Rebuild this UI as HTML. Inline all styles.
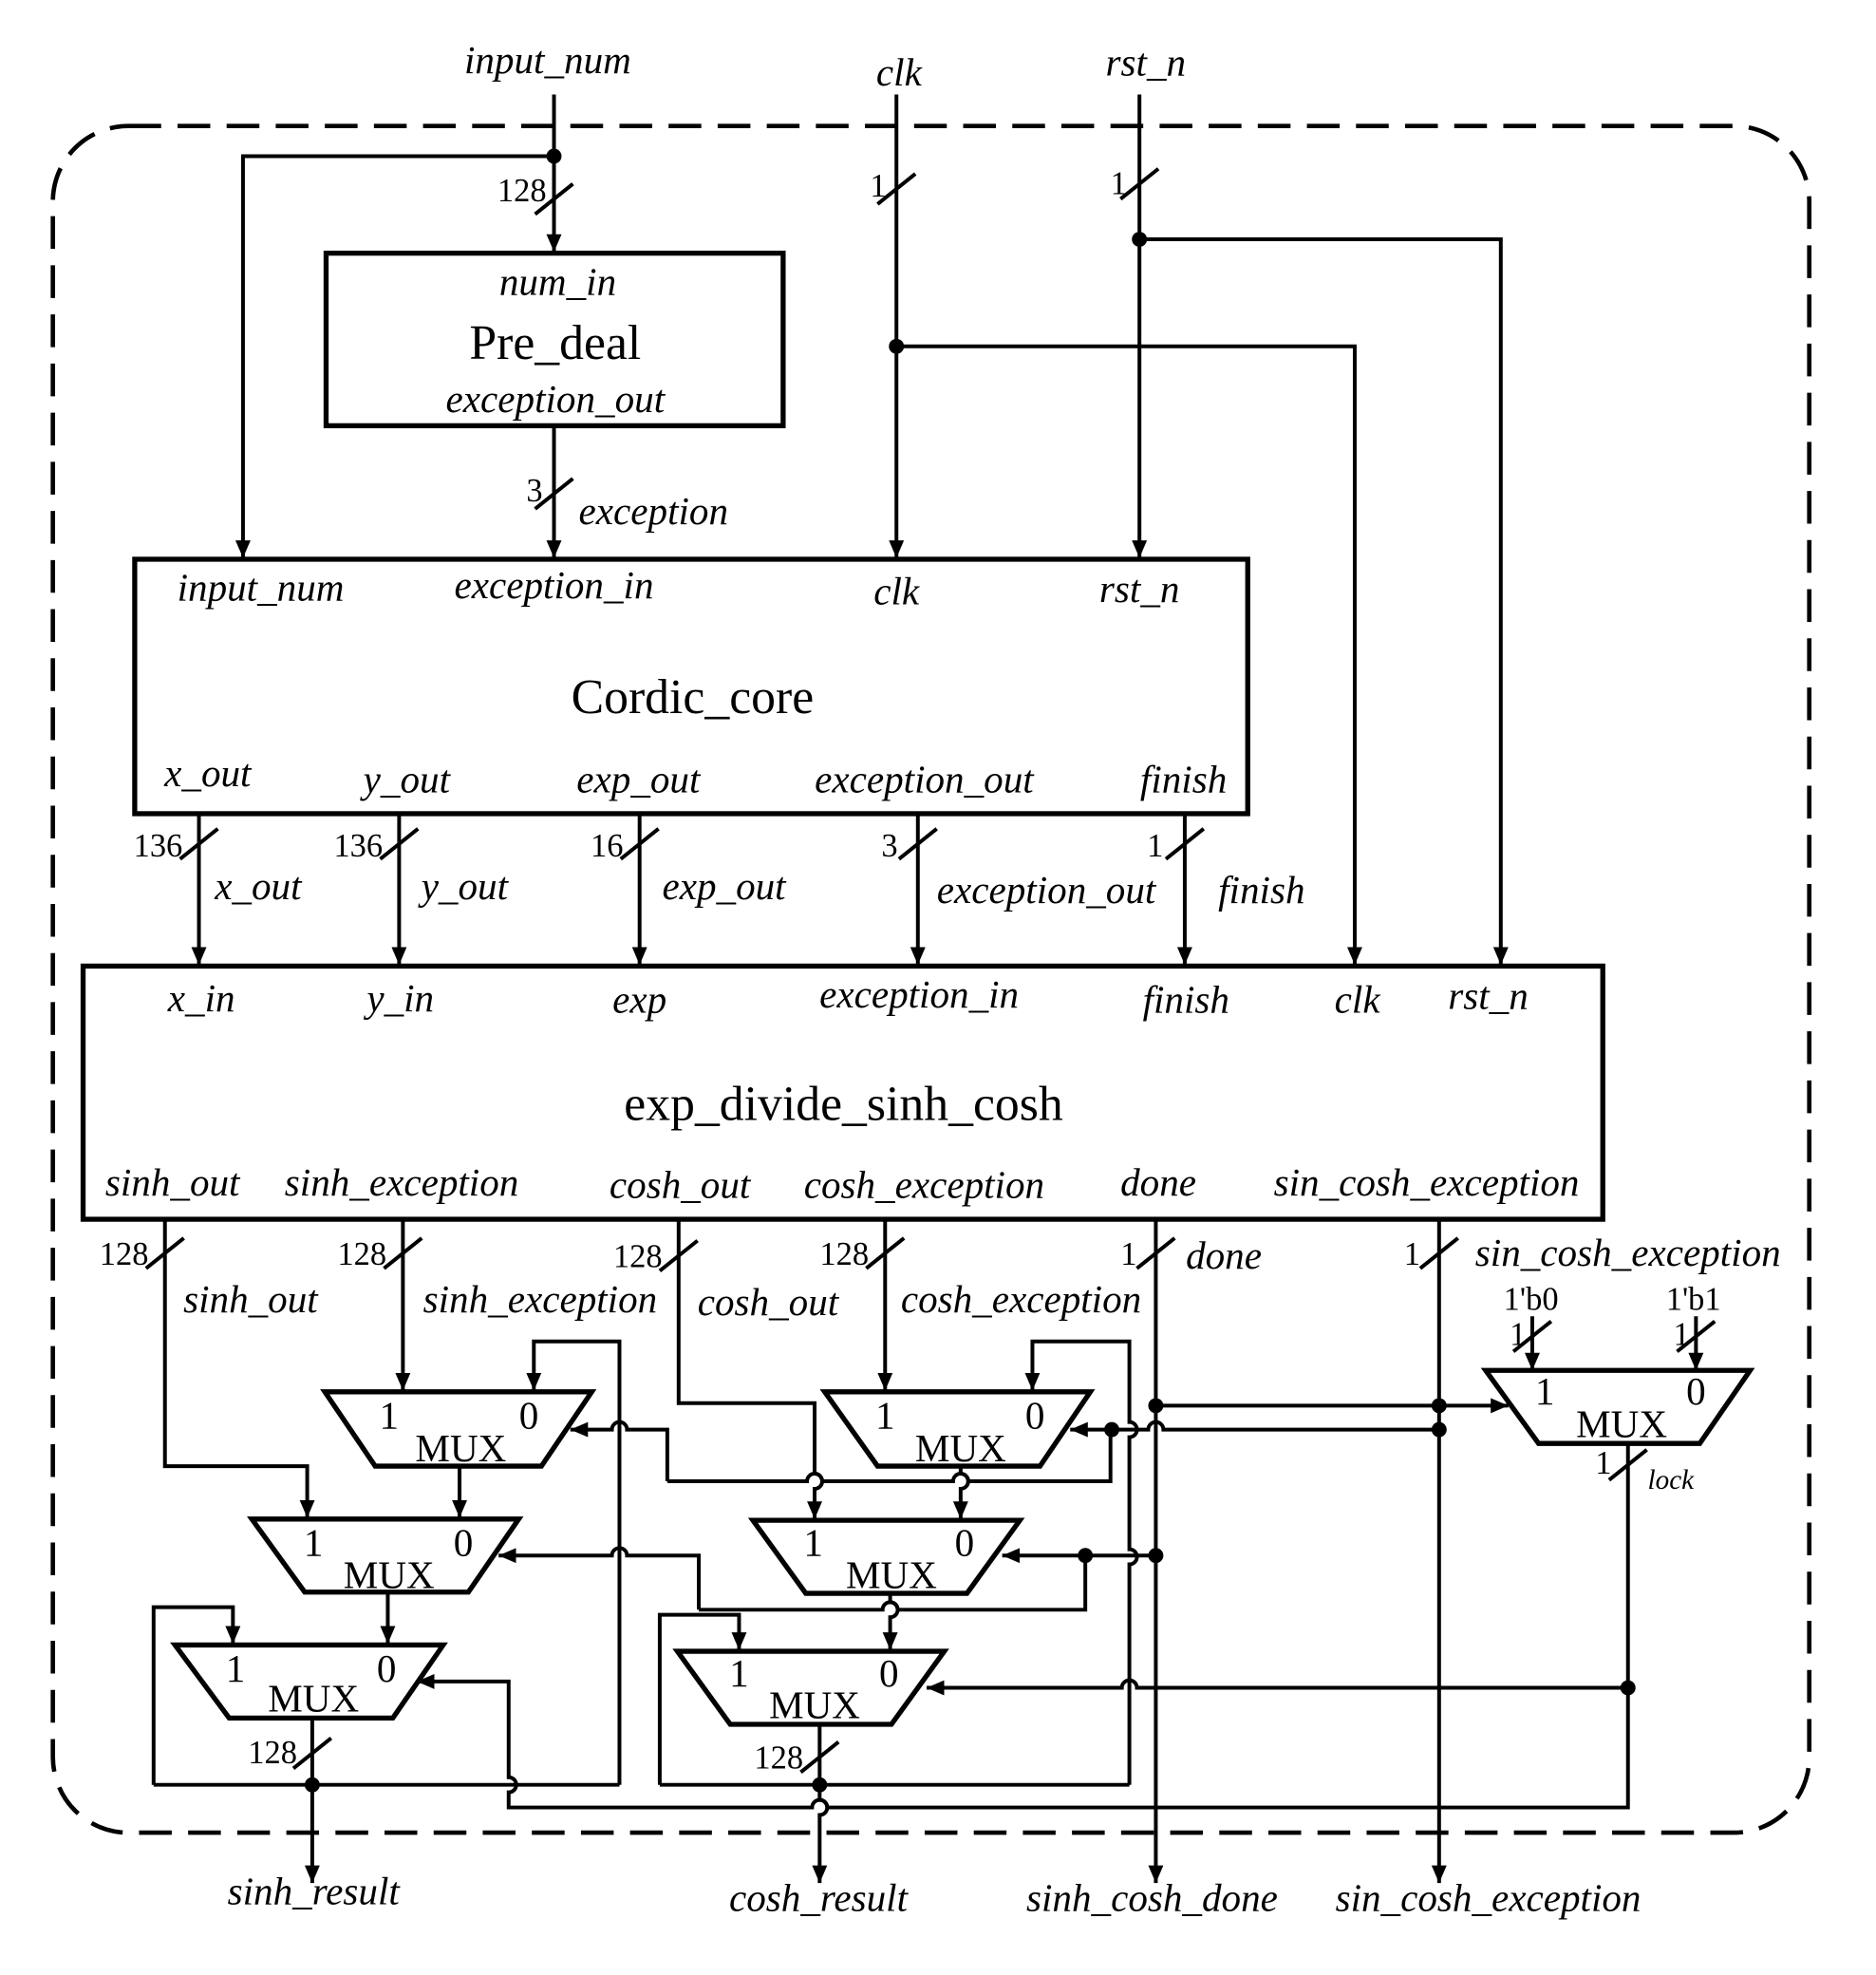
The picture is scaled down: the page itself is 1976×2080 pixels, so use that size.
<!DOCTYPE html>
<html><head><meta charset="utf-8"><style>
html,body{margin:0;padding:0;background:#fff;}
svg{display:block;}
text{font-family:"Liberation Serif",serif;fill:#000;}
.i{font-style:italic;font-size:31px;}
.n{font-size:26px;}
.m{font-size:31px;}
.b{font-size:39px;}
</style></head><body>
<svg width="1976" height="2080" viewBox="0 0 1490 1568" preserveAspectRatio="none" xmlns="http://www.w3.org/2000/svg">
<defs>
<marker id="a" markerUnits="userSpaceOnUse" markerWidth="14" markerHeight="22" refX="14" refY="6" orient="auto">
<path d="M0,0 L14,6 L0,12 Z" fill="#000"/></marker>
</defs>
<rect x="42" y="100" width="1395" height="1355" rx="60" fill="none" stroke="#000" stroke-width="3.5" stroke-dasharray="26,13"/>
<g fill="none" stroke="#000" stroke-width="3">
<path d="M440,75 V200" marker-end="url(#a)"/>
<path d="M440,124 H193 V443" marker-end="url(#a)"/>
<path d="M440,338 V443" marker-end="url(#a)"/>
<path d="M712,75 V443" marker-end="url(#a)"/>
<path d="M712,275 H1076 V766" marker-end="url(#a)"/>
<path d="M905,75 V443" marker-end="url(#a)"/>
<path d="M905,190 H1192 V766" marker-end="url(#a)"/>
<path d="M158,646 V766" marker-end="url(#a)"/>
<path d="M317,646 V766" marker-end="url(#a)"/>
<path d="M508,646 V766" marker-end="url(#a)"/>
<path d="M729,646 V766" marker-end="url(#a)"/>
<path d="M941,646 V766" marker-end="url(#a)"/>
<path d="M131,968 V1164 H244 V1205" marker-end="url(#a)"/>
<path d="M320,968 V1104" marker-end="url(#a)"/>
<path d="M539,968 V1114 H647 V1170 a6,6 0 0 1 0,12 V1206" marker-end="url(#a)"/>
<path d="M703,968 V1104" marker-end="url(#a)"/>
<path d="M918,968 V1495" marker-end="url(#a)"/>
<path d="M1143,968 V1495" marker-end="url(#a)"/>
<path d="M492,1417 V1065 H424 V1104" marker-end="url(#a)"/>
<path d="M122,1417 H492"/>
<path d="M122,1417 V1276 H185 V1305" marker-end="url(#a)"/>
<path d="M365,1164 V1205" marker-end="url(#a)"/>
<path d="M308,1264 V1305" marker-end="url(#a)"/>
<path d="M248,1364 V1495" marker-end="url(#a)"/>
<path d="M897,1417 V1242 a6,6 0 0 0 0,-12 V1141 a6,6 0 0 0 0,-12 V1065 H820 V1104" marker-end="url(#a)"/>
<path d="M524,1417 H897"/>
<path d="M524,1417 V1282 H587 V1310" marker-end="url(#a)"/>
<path d="M763,1164 V1170 a6,6 0 0 1 0,12 V1206" marker-end="url(#a)"/>
<path d="M707,1265 V1272 a6,6 0 0 1 0,12 V1310" marker-end="url(#a)"/>
<path d="M651,1369 V1429 a6,6 0 0 1 0,12 V1495" marker-end="url(#a)"/>
<path d="M530,1176 V1135 H498 a6,6 0 0 0 -12,0 H453" marker-end="url(#a)"/>
<path d="M530,1176 H641 a6,6 0 0 1 12,0 H757 a6,6 0 0 1 12,0 H882 V1135"/>
<path d="M1143,1135 H924 a6,6 0 0 0 -12,0 H850" marker-end="url(#a)"/>
<path d="M555,1278 V1235 H498 a6,6 0 0 0 -12,0 H396" marker-end="url(#a)"/>
<path d="M555,1278 H701 a6,6 0 0 1 12,0 H862 V1235"/>
<path d="M918,1235 H796" marker-end="url(#a)"/>
<path d="M918,1116 H1198" marker-end="url(#a)"/>
<path d="M1217,1045 V1088" marker-end="url(#a)"/>
<path d="M1347,1045 V1088" marker-end="url(#a)"/>
<path d="M1293,1146 V1435 H657 a6,6 0 0 0 -12,0 H404 V1423 a6,6 0 0 0 0,-12 V1335 H331" marker-end="url(#a)"/>
<path d="M1293,1340 H903 a6,6 0 0 0 -12,0 H736" marker-end="url(#a)"/>
<path d="M425,170 L455,146 M697,162 L727,138 M890,158 L920,134 M425,404 L455,380 M143,682 L173,658 M302,682 L332,658 M493,682 L523,658 M714,682 L744,658 M926,682 L956,658 M116,1007 L146,983 M305,1007 L335,983 M524,1009 L554,985 M688,1007 L718,983 M903,1007 L933,983 M1128,1007 L1158,983 M1202,1073 L1232,1049 M1332,1073 L1362,1049 M1278,1175 L1308,1151 M233,1404 L263,1380 M636,1407 L666,1383"/>
</g>
<g stroke="#000" stroke-width="4" fill="none">
<rect x="259" y="201" width="363" height="137"/>
<rect x="107" y="444" width="884" height="202"/>
<rect x="66" y="767" width="1207" height="201"/>
<path d="M258,1105 H470 L430,1164 H298 Z"/>
<path d="M200,1206 H412 L372,1264 H242 Z"/>
<path d="M139,1306 H352 L312,1364 H182 Z"/>
<path d="M655,1105 H866 L826,1164 H697 Z"/>
<path d="M598,1207 H810 L768,1265 H640 Z"/>
<path d="M538,1311 H750 L708,1369 H580 Z"/>
<path d="M1180,1088 H1390 L1350,1146 H1222 Z"/>
</g>
<g fill="#000">
<circle cx="440" cy="124" r="6"/><circle cx="712" cy="275" r="6"/><circle cx="905" cy="190" r="6"/>
<circle cx="918" cy="1116" r="6"/><circle cx="918" cy="1235" r="6"/><circle cx="1143" cy="1116" r="6"/><circle cx="1143" cy="1135" r="6"/>
<circle cx="883" cy="1135" r="6"/><circle cx="862" cy="1235" r="6"/><circle cx="1293" cy="1340" r="6"/>
<circle cx="248" cy="1417" r="6"/><circle cx="651" cy="1417" r="6"/>
</g>
<g class="i" text-anchor="middle">
<text x="435" y="58">input_num</text><text x="714" y="68">clk</text><text x="910" y="60">rst_n</text>
<text x="443" y="234">num_in</text><text x="441" y="327">exception_out</text>
<text x="519" y="416">exception</text>
<text x="207" y="477">input_num</text><text x="440" y="475">exception_in</text><text x="712" y="480">clk</text><text x="905" y="478">rst_n</text>
<text x="165" y="624">x_out</text><text x="323" y="629">y_out</text><text x="507" y="629">exp_out</text><text x="734" y="629">exception_out</text><text x="940" y="629">finish</text>
<text x="205" y="714">x_out</text><text x="369" y="714">y_out</text><text x="575" y="714">exp_out</text><text x="831" y="717">exception_out</text><text x="1002" y="717">finish</text>
<text x="160" y="803">x_in</text><text x="318" y="803">y_in</text><text x="508" y="804">exp</text><text x="730" y="800">exception_in</text><text x="942" y="804">finish</text><text x="1078" y="804">clk</text><text x="1182" y="801">rst_n</text>
<text x="137" y="949">sinh_out</text><text x="319" y="949">sinh_exception</text><text x="540" y="951">cosh_out</text><text x="734" y="951">cosh_exception</text><text x="920" y="949">done</text><text x="1133" y="949">sin_cosh_exception</text>
<text x="199" y="1042">sinh_out</text><text x="429" y="1042">sinh_exception</text><text x="610" y="1044">cosh_out</text><text x="811" y="1042">cosh_exception</text>
<text x="972" y="1007">done</text><text x="1293" y="1005">sin_cosh_exception</text>
<text x="249" y="1512">sinh_result</text><text x="650" y="1517">cosh_result</text><text x="915" y="1517">sinh_cosh_done</text><text x="1182" y="1517">sin_cosh_exception</text>
<text x="1327" y="1182" style="font-size:22px">lock</text>
</g>
<g class="b" text-anchor="middle">
<text x="441" y="285">Pre_deal</text><text x="550" y="566">Cordic_core</text><text x="670" y="889">exp_divide_sinh_cosh</text>
</g>
<g class="n" text-anchor="end">
<text x="434" y="160">128</text><text x="704" y="156">1</text><text x="895" y="154">1</text><text x="431" y="398">3</text>
<text x="145" y="680">136</text><text x="304" y="680">136</text><text x="495" y="680">16</text><text x="713" y="680">3</text><text x="924" y="680">1</text>
<text x="118" y="1004">128</text><text x="307" y="1004">128</text><text x="526" y="1006">128</text><text x="690" y="1004">128</text><text x="903" y="1004">1</text><text x="1128" y="1004">1</text>
<text x="1212" y="1068">1</text><text x="1342" y="1068">1</text><text x="1280" y="1170">1</text>
<text x="236" y="1400">128</text><text x="638" y="1404">128</text>
</g>
<g class="n" text-anchor="middle">
<text x="1216" y="1040">1'b0</text><text x="1345" y="1040">1'b1</text>
</g>
<g class="m" text-anchor="middle">
<text x="309" y="1134">1</text><text x="420" y="1134">0</text><text x="366" y="1160">MUX</text>
<text x="249" y="1235">1</text><text x="368" y="1235">0</text><text x="309" y="1261">MUX</text>
<text x="187" y="1335">1</text><text x="307" y="1335">0</text><text x="249" y="1359">MUX</text>
<text x="703" y="1134">1</text><text x="822" y="1134">0</text><text x="763" y="1160">MUX</text>
<text x="646" y="1235">1</text><text x="766" y="1235">0</text><text x="708" y="1261">MUX</text>
<text x="587" y="1339">1</text><text x="706" y="1339">0</text><text x="647" y="1364">MUX</text>
<text x="1227" y="1115">1</text><text x="1347" y="1115">0</text><text x="1288" y="1141">MUX</text>
</g>
</svg>
</body></html>
